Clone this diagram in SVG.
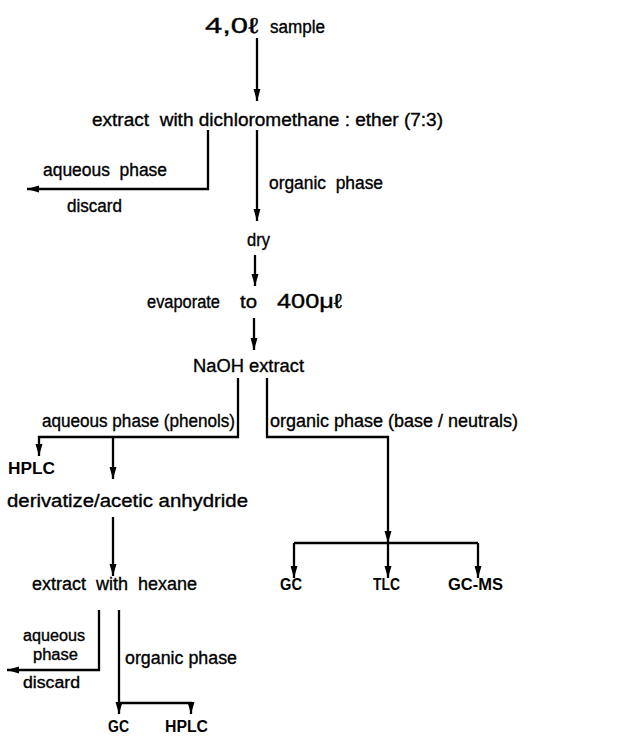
<svg xmlns="http://www.w3.org/2000/svg" width="640" height="736" viewBox="0 0 640 736">
<style>
text { font-family: "Liberation Sans", "DejaVu Sans", sans-serif; font-size: 18px; fill: #000; stroke: #000; stroke-width: 0.35; }
.big { font-size: 22px; }
.mid { font-size: 20px; }
.sm { font-size: 16px; }
.cap { font-size: 16px; font-weight: bold; stroke-width: 0; }
.ln { fill: none; stroke: #000; stroke-width: 2.3; stroke-linejoin: miter; }
.arr { marker-end: url(#ah); }
</style>
<defs>
<marker id="ah" markerUnits="userSpaceOnUse" markerWidth="13" markerHeight="8" refX="12" refY="4" orient="auto">
<path d="M0,0.5 L12,4 L0,7.5 z" fill="#000"/>
</marker>
</defs>
<rect width="640" height="736" fill="#fff"/>

<g id="connectors">
<path class="ln arr" d="M257,38 V101"/>
<path class="ln arr" d="M208,130 V189 H27"/>
<path class="ln arr" d="M257,130 V221"/>
<path class="ln arr" d="M255,255 V286"/>
<path class="ln arr" d="M254,318 V350"/>
<path class="ln arr" d="M238,378 V437 H39 V456"/>
<path class="ln arr" d="M113,437 V479"/>
<path class="ln arr" d="M267,378 V437 H388 V543"/>
<path class="ln" d="M294,543 H478"/>
<path class="ln arr" d="M294,543 V578"/>
<path class="ln arr" d="M388,543 V578"/>
<path class="ln arr" d="M478,543 V578"/>
<path class="ln arr" d="M113,517 V576"/>
<path class="ln arr" d="M99,610 V670 H7"/>
<path class="ln arr" d="M119,610 V714"/>
<path class="ln arr" d="M119,703 H191 V714"/>
</g>

<g id="sample">
<text class="big" x="205" y="33" textLength="53" lengthAdjust="spacingAndGlyphs">4,0ℓ</text>
<text x="270" y="33" textLength="55" lengthAdjust="spacingAndGlyphs">sample</text>
</g>
<g id="extract1">
<text xml:space="preserve" x="92" y="126" textLength="351" lengthAdjust="spacingAndGlyphs">extract  with dichloromethane : ether (7:3)</text>
</g>
<g id="aqueous1">
<text xml:space="preserve" x="43" y="176" textLength="124" lengthAdjust="spacingAndGlyphs">aqueous  phase</text>
<text x="67" y="212" textLength="55" lengthAdjust="spacingAndGlyphs">discard</text>
</g>
<g id="organic1">
<text xml:space="preserve" x="269" y="189" textLength="114" lengthAdjust="spacingAndGlyphs">organic  phase</text>
</g>
<g id="dry">
<text x="247" y="246" textLength="23" lengthAdjust="spacingAndGlyphs">dry</text>
</g>
<g id="evaporate">
<text x="147" y="308" textLength="73" lengthAdjust="spacingAndGlyphs">evaporate</text>
<text x="240" y="308" textLength="17" lengthAdjust="spacingAndGlyphs">to</text>
<text class="mid" x="277" y="308" textLength="65" lengthAdjust="spacingAndGlyphs">400μℓ</text>
</g>
<g id="naoh">
<text x="193" y="372" textLength="111" lengthAdjust="spacingAndGlyphs">NaOH extract</text>
</g>
<g id="aqueous2">
<text x="42" y="427" textLength="193" lengthAdjust="spacingAndGlyphs">aqueous phase (phenols)</text>
</g>
<g id="organic2">
<text x="270" y="427" textLength="248" lengthAdjust="spacingAndGlyphs">organic phase (base / neutrals)</text>
</g>
<g id="hplc1">
<text class="cap" x="8" y="474" textLength="47" lengthAdjust="spacingAndGlyphs">HPLC</text>
</g>
<g id="derivatize">
<text x="7" y="507" textLength="241" lengthAdjust="spacingAndGlyphs">derivatize/acetic anhydride</text>
</g>
<g id="extract2">
<text xml:space="preserve" x="32" y="590" textLength="165" lengthAdjust="spacingAndGlyphs">extract  with  hexane</text>
</g>
<g id="gc1"><text class="cap" x="280" y="590" textLength="22" lengthAdjust="spacingAndGlyphs">GC</text></g>
<g id="tlc"><text class="cap" x="373" y="590" textLength="27" lengthAdjust="spacingAndGlyphs">TLC</text></g>
<g id="gcms"><text class="cap" x="448" y="590" textLength="55" lengthAdjust="spacingAndGlyphs">GC-MS</text></g>
<g id="aqueous3">
<text class="sm" x="23" y="641" textLength="62" lengthAdjust="spacingAndGlyphs">aqueous</text>
<text class="sm" x="33" y="660" textLength="45" lengthAdjust="spacingAndGlyphs">phase</text>
<text class="sm" x="23" y="688" textLength="57" lengthAdjust="spacingAndGlyphs">discard</text>
</g>
<g id="organic3">
<text x="125" y="664" textLength="112" lengthAdjust="spacingAndGlyphs">organic phase</text>
</g>
<g id="gc2"><text class="cap" x="108" y="732" textLength="21" lengthAdjust="spacingAndGlyphs">GC</text></g>
<g id="hplc2"><text class="cap" x="165" y="732" textLength="43" lengthAdjust="spacingAndGlyphs">HPLC</text></g>
</svg>
